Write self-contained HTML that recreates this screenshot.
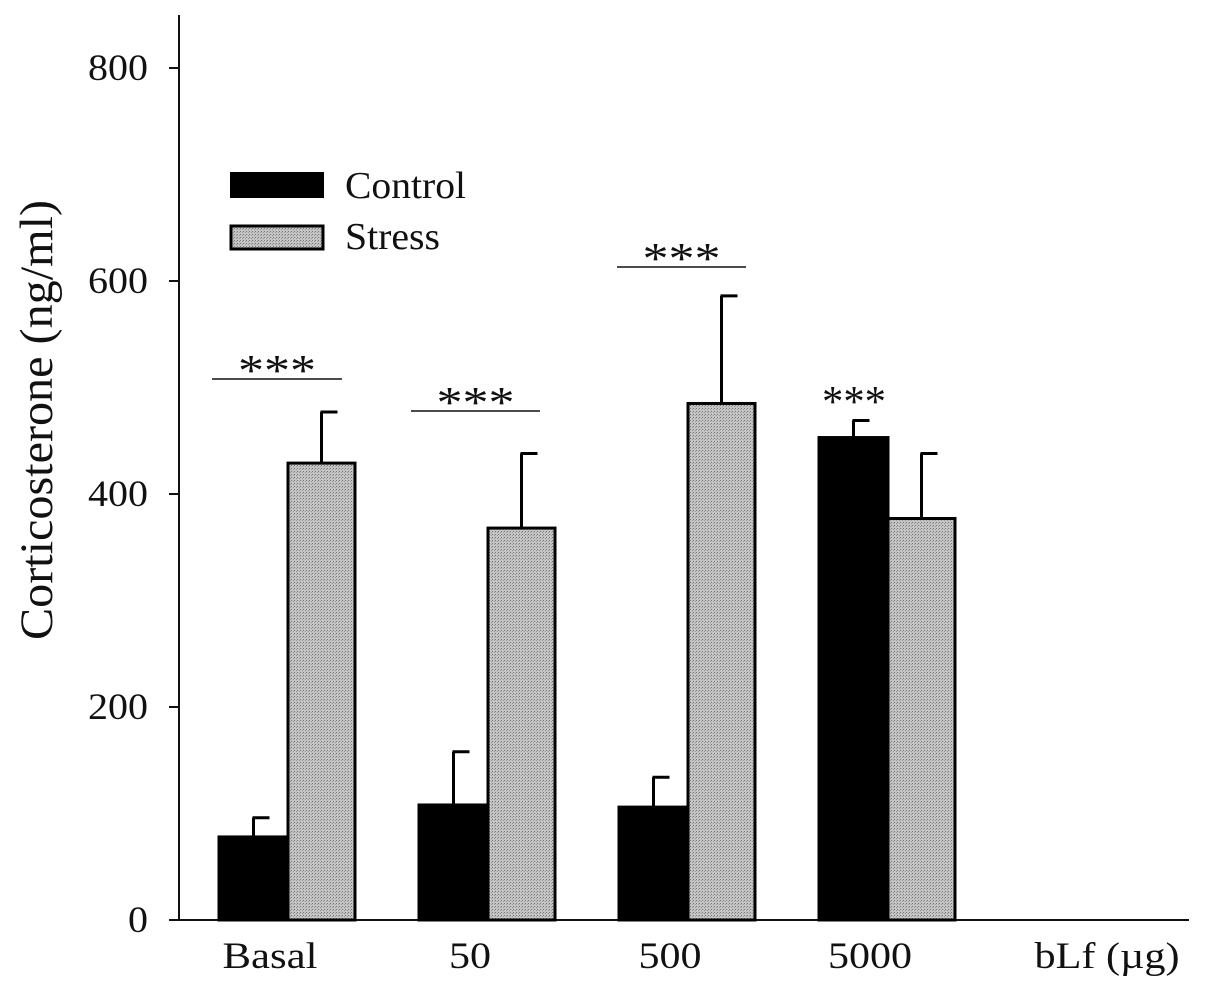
<!DOCTYPE html>
<html><head><meta charset="utf-8"><style>
body{margin:0;background:#fff}
svg text{font-family:"Liberation Serif",serif;fill:#111}
</style></head><body>
<svg width="1205" height="992">
<defs><pattern id="dots" width="3" height="3" patternUnits="userSpaceOnUse"><rect width="3" height="3" fill="#c4c4c4"/><rect width="1" height="1" fill="#777"/><rect x="2" y="1" width="1" height="1" fill="#999"/></pattern></defs>
<g id="plot"></g>
</svg>
<script>
const categories=["Basal","50","500","5000"];
const controlValues=[78,108,106,453];
const controlErrors=[96,158,134,469];
const stressValues=[429,368,485,377];
const stressErrors=[477,438,586,438];
const yTicks=[0,200,400,600,800];
const ns="http://www.w3.org/2000/svg";
const g=document.getElementById('plot');
const y=v=>920-v*1.065;
const xc=i=>288+i*200;
function mk(t,a,p){const e=document.createElementNS(ns,t);for(const k in a)e.setAttribute(k,a[k]);(p||g).appendChild(e);return e;}
function txt(s,a,perChar){const e=mk('text',Object.assign({lengthAdjust:'spacingAndGlyphs'},a));e.textContent=s;if(perChar)e.setAttribute('textLength',perChar*s.length);return e;}
let e=mk('line',{x1:179,y1:15,x2:179,y2:921,stroke:'#111','stroke-width':2});


e=mk('line',{x1:178,y1:920,x2:1189,y2:920,stroke:'#111','stroke-width':2});


yTicks.forEach(v=>{
 e=mk('line',{x1:169,y1:y(v),x2:179,y2:y(v),stroke:'#111','stroke-width':2});
 
 
 e=txt(String(v),{x:148,y:y(v)+12,'text-anchor':'end','font-size':37},20);
 
 
});
function bar(x0,w,v,err,fill,nm){
 const r=mk('rect',{x:x0,y:y(v),width:w,height:920-y(v),fill:fill,stroke:'#000','stroke-width':3});
 
 
 const cx=x0+w/2;
 const l=mk('path',{d:`M${cx},${y(v)}V${y(err)}M${cx-1},${y(err)}H${cx+16}`,stroke:'#000','stroke-width':3,fill:'none'});
 
 
}
categories.forEach((c,i)=>{
 bar(xc(i)-69,69,controlValues[i],controlErrors[i],'#000','control-bar-'+c);
 bar(xc(i),67,stressValues[i],stressErrors[i],'url(#dots)','stress-bar-'+c);
 e=txt(c,{x:xc(i)-18,y:968,'text-anchor':'middle','font-size':37},c==='Basal'?19:21);
 
 
});
e=txt('bLf (µg)',{x:1107,y:968,'text-anchor':'middle','font-size':37,textLength:145});


e=txt('Corticosterone (ng/ml)',{x:52,y:420,'text-anchor':'middle','font-size':47,textLength:440,transform:'rotate(-90 52 420)'});


[[212,342,379],[411,540,411],[617,746,267]].forEach(s=>{
 e=mk('line',{x1:s[0],y1:s[2],x2:s[1],y2:s[2],stroke:'#111','stroke-width':1.5});
 
 
 e=txt('***',{x:(s[0]+s[1])/2,y:s[2]+6,'text-anchor':'middle','font-size':44,textLength:78});
 
 
});
e=txt('***',{x:854,y:416,'text-anchor':'middle','font-size':44,textLength:64});


e=mk('rect',{x:231,y:173,width:92,height:24,fill:'#000',stroke:'#000','stroke-width':2});


e=txt('Control',{x:345,y:198,'font-size':38,textLength:121});


e=mk('rect',{x:231,y:226,width:92,height:23,fill:'url(#dots)',stroke:'#000','stroke-width':3});


e=txt('Stress',{x:345,y:249,'font-size':38,textLength:95});


</script>
</body></html>
